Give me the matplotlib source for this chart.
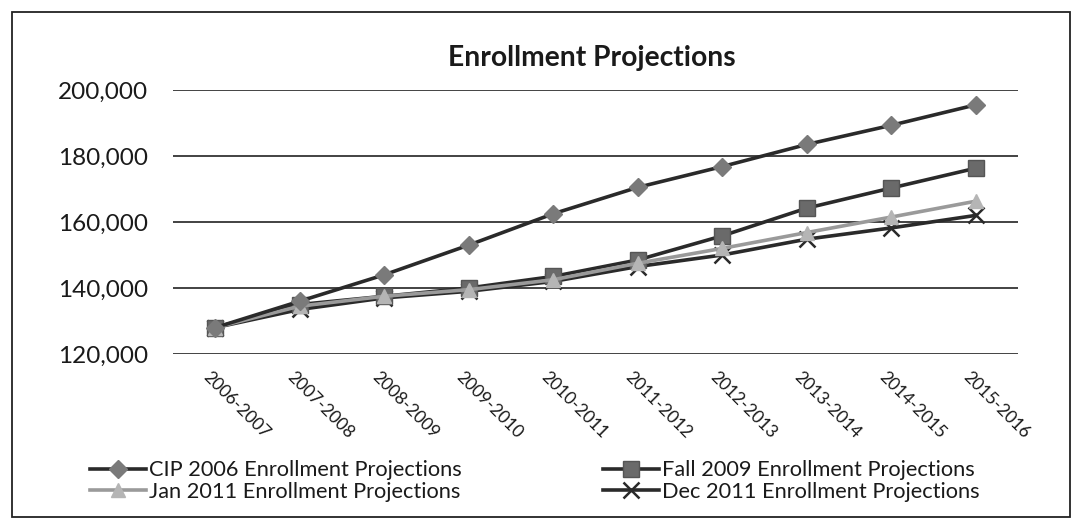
import matplotlib
matplotlib.use("Agg")
import matplotlib.pyplot as plt
from matplotlib.patches import Rectangle
from matplotlib.ticker import FuncFormatter
import matplotlib.transforms as mtransforms

categories = ["2006-2007", "2007-2008", "2008-2009", "2009-2010", "2010-2011",
              "2011-2012", "2012-2013", "2013-2014", "2014-2015", "2015-2016"]
cip_2006 = [128000, 136000, 144000, 153000, 162500, 170500, 176800, 183500, 189300, 195500]
fall_2009 = [128000, 135000, 137500, 140000, 143500, 148500, 155800, 164200, 170300, 176300]
jan_2011 = [128000, 134500, 137500, 139500, 142500, 147500, 152000, 156800, 161500, 166300]
dec_2011 = [128000, 133500, 137000, 139000, 142000, 146500, 150000, 154800, 158200, 162000]
series_names = ["CIP 2006 Enrollment Projections", "Fall 2009 Enrollment Projections",
                "Jan 2011 Enrollment Projections", "Dec 2011 Enrollment Projections"]
yticks = [120000, 140000, 160000, 180000, 200000]

plt.rcParams['font.family'] = ['Lato', 'DejaVu Sans']

W, H = 1074, 525
fig = plt.figure(figsize=(W / 100, H / 100), dpi=100)
fig.patch.set_facecolor("white")

# outer chart frame
fig.patches.append(Rectangle((12 / W, 1 - 517 / H), (1070 - 12) / W, (517 - 12) / H,
                             transform=fig.transFigure, fill=False, edgecolor="#222222",
                             linewidth=1.3))

ax = fig.add_axes([173 / W, 1 - 354 / H, (1018 - 173) / W, (354 - 90) / H])
x = list(range(len(categories)))

l_cip, = ax.plot(x, cip_2006, color="#2a2a2a", lw=2.6, marker="D", markersize=9,
                 markerfacecolor="#7a7a7a", markeredgecolor="#7a7a7a", zorder=4)
l_fall, = ax.plot(x, fall_2009, color="#2a2a2a", lw=2.6, marker="s", markersize=11,
                  markerfacecolor="#6a6a6a", markeredgecolor="#555555", zorder=3)
l_jan, = ax.plot(x, jan_2011, color="#9a9a9a", lw=2.6, marker="^", markersize=10,
                 markerfacecolor="#b5b5b5", markeredgecolor="#b5b5b5", zorder=3)
l_dec, = ax.plot(x, dec_2011, color="#2a2a2a", lw=2.6, marker="x", markersize=11,
                 markeredgewidth=1.8, markeredgecolor="#2a2a2a", zorder=2)

ax.set_xlim(-0.5, len(categories) - 0.5)
ax.set_ylim(120000, 200000)
ax.set_yticks(yticks)
ax.yaxis.set_major_formatter(FuncFormatter(lambda v, p: f"{int(v):,}"))
ax.grid(axis="y", color="#222222", linewidth=1.2)
ax.set_axisbelow(True)
for s in ["top", "right", "left", "bottom"]:
    ax.spines[s].set_visible(False)
ax.tick_params(axis="both", length=0)
ax.tick_params(axis="y", labelsize=17.5, pad=18, labelcolor="#1a1a1a")

ax.set_xticks(x)
ax.set_xticklabels(categories, rotation=-45, ha="left", va="top",
                   rotation_mode="anchor", fontsize=12.5, color="#1a1a1a")
offset = mtransforms.ScaledTranslation(-4 / 100, -10 / 100, fig.dpi_scale_trans)
for lbl in ax.get_xticklabels():
    lbl.set_transform(lbl.get_transform() + offset)

fig.text(592 / W, 1 - 58 / H, "Enrollment Projections", ha="center", va="center",
         fontsize=20.3, fontweight="bold", color="#1a1a1a")

leg = fig.legend([l_cip, l_jan, l_fall, l_dec],
                 [series_names[0], series_names[2], series_names[1], series_names[3]],
                 ncol=2, loc="center left", bbox_to_anchor=(90 / W, 1 - 481 / H),
                 frameon=False, fontsize=15.7, handlelength=2.55, handletextpad=0.15,
                 columnspacing=6.5, labelspacing=0.05, borderaxespad=0, borderpad=0)
for t in leg.get_texts():
    t.set_color("#1a1a1a")

fig.savefig("out.png", dpi=100)
